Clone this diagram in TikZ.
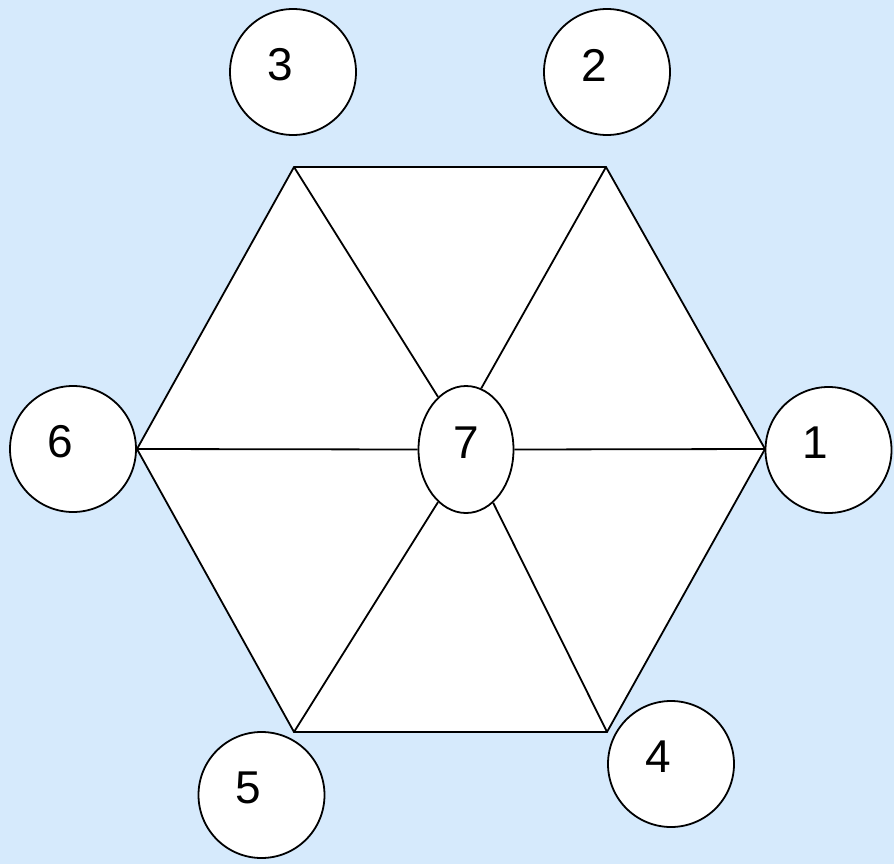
\documentclass[tikz,border=0pt]{standalone}
\usepackage{fontspec}
\setmainfont{Liberation Sans}
\usetikzlibrary{shapes.geometric}
\definecolor{bgblue}{HTML}{D6EAFC}
\begin{document}
\begin{tikzpicture}[x=1pt,y=-1pt,line width=1.8pt,
    num/.style={circle,draw,fill=white,minimum size=126pt,inner sep=0pt},
    digit/.style={font=\fontsize{46}{50}\selectfont}]
    \fill[bgblue] (0,0) rectangle (894,864);
    \useasboundingbox (0,0) rectangle (894,864);
    \coordinate (VR) at (765,449);
    \coordinate (VTR) at (606,167);
    \coordinate (VTL) at (294,167);
    \coordinate (VL) at (137,449);
    \coordinate (VBL) at (294,732);
    \coordinate (VBR) at (607,732);
    \filldraw[fill=white,line join=miter]
      (VR) -- (VTR) -- (VTL) -- (VL) -- (VBL) -- (VBR) -- cycle;
    \node[ellipse,draw,fill=white,minimum width=95pt,minimum height=127pt,inner sep=0pt,
      label={[digit,yshift=7pt]center:7}] (N7) at (466,449.5) {};
    \draw (VL) -- (N7.west);
    \draw (VR) -- (N7.east);
    \draw (VTL) -- (N7.118);
    \draw (VTR) -- (N7.76);
    \draw (VBL) -- (N7.242);
    \draw (VBR) -- (N7.297);
    \node[num,label={[digit,xshift=-13pt,yshift=7pt]center:1}] (N1) at (828.5,450) {};
    \node[num,label={[digit,xshift=-13pt,yshift=7pt]center:2}] (N2) at (607,72) {};
    \node[num,label={[digit,xshift=-13pt,yshift=7pt]center:3}] (N3) at (293,72) {};
    \node[num,label={[digit,xshift=-13pt,yshift=7pt]center:4}] (N4) at (671,764) {};
    \node[num,label={[digit,xshift=-13pt,yshift=7pt]center:5}] (N5) at (261.5,795) {};
    \node[num,label={[digit,xshift=-13pt,yshift=7pt]center:6}] (N6) at (73,449) {};
\end{tikzpicture}
\end{document}
